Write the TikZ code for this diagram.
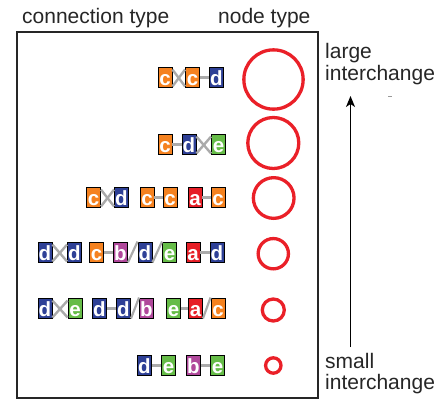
\documentclass[tikz,border=0pt]{standalone}
\usepackage{fontspec}
\setmainfont{Liberation Sans}
\usetikzlibrary{arrows.meta}
\definecolor{cor}{RGB}{245,130,32}
\definecolor{cbl}{RGB}{46,64,150}
\definecolor{cgr}{RGB}{102,188,72}
\definecolor{crd}{RGB}{230,30,38}
\definecolor{cmg}{RGB}{176,72,155}
\definecolor{ccirc}{RGB}{234,32,40}
\definecolor{cgray}{RGB}{170,170,170}
\newcommand\xcr[2]{\draw[cx] ([yshift=-3pt]#1.north east) -- ([yshift=1pt]#2.south west);
  \draw[cx] ([yshift=1pt]#1.south east) -- ([yshift=-3pt]#2.north west);}
\begin{document}
\begin{tikzpicture}[x=1pt,y=-1pt,
  bx/.style={draw=black, line width=0.9pt, minimum width=14pt, minimum height=20pt,
    inner sep=0pt, text height=18pt, text depth=2pt, text=white,
    font=\fontsize{20.5}{21}\selectfont\bfseries},
  ob/.style={bx, fill=cor}, bb/.style={bx, fill=cbl}, gb/.style={bx, fill=cgr},
  rb/.style={bx, fill=crd}, mb/.style={bx, fill=cmg},
  cdash/.style={draw=cgray, line width=3pt},
  cx/.style={draw=cgray, line width=2.4pt},
  csl/.style={draw=cgray, line width=2.2pt},
  circ/.style={circle, draw=ccirc, line width=3.3pt, inner sep=0pt},
  lbl/.style={anchor=base west, inner sep=0pt, font=\fontsize{21}{25}\selectfont, text=black!85}
]
\useasboundingbox (0,0) rectangle (447,400);
\draw[line width=1.1pt, black!85] (17,32) rectangle (318,398);

\node[lbl] (t1) at (22,23) {connection type};
\node[lbl] (t2) at (218,23) {node type};
\node[lbl] (l1) at (325,58.5) {large};
\node[lbl] (l2) at (325,80) {interchange};
\node[lbl] (s1) at (325,368) {small};
\node[lbl] (s2) at (325,389) {interchange};

\coordinate (arrB) at (350.5,347);
\coordinate (arrT) at (350.5,96);
\draw[line width=1.2pt, -{Stealth[length=11pt,width=9pt,inset=3pt]}] (arrB) -- (arrT);
\coordinate (mk1) at (388,96);
\coordinate (mk2) at (392,96);
\draw[black!40, line width=0.8pt] (mk1) -- (mk2);

% circles
\node[circ, minimum size=59.3pt] (c1) at (273.5,79.5) {};
\node[circ, minimum size=51pt] (c2) at (273.3,143) {};
\node[circ, minimum size=40.7pt] (c3) at (273.7,198) {};
\node[circ, minimum size=30.3pt] (c4) at (273.3,253.7) {};
\node[circ, minimum size=22pt] (c5) at (273.3,310) {};
\node[circ, minimum size=15.4pt] (c6) at (273.3,365.5) {};

% row 1
\node[ob] (a1) at (165,77) {c};
\node[ob] (a2) at (192.5,77) {c};
\node[bb] (a3) at (216.5,77) {d};
\xcr{a1}{a2}
\draw[cdash] (a2.east) -- (a3.west);

% row 2
\node[ob] (b1) at (165,144) {c};
\node[bb] (b2) at (189,144) {d};
\node[gb] (b3) at (218.5,144) {e};
\draw[cdash] (b1.east) -- (b2.west);
\xcr{b2}{b3}

% row 3
\node[ob] (e1) at (93.5,197) {c};
\node[bb] (e2) at (121.5,197) {d};
\node[ob] (e3) at (147,197) {c};
\node[ob] (e4) at (170,197) {c};
\node[rb] (e5) at (195,197) {a};
\node[ob] (e6) at (218,197) {c};
\xcr{e1}{e2}
\draw[cdash] (e3.east) -- (e4.west);
\draw[cdash] (e5.east) -- (e6.west);

% row 4
\node[bb] (f1) at (45,252) {d};
\node[bb] (f2) at (74.5,252) {d};
\node[ob] (f3) at (96.5,252) {c};
\node[mb] (f4) at (120.5,252) {b};
\node[bb] (f5) at (145,252) {d};
\node[gb] (f6) at (169.5,252) {e};
\node[rb] (f7) at (193,252) {a};
\node[bb] (f8) at (217,252) {d};
\xcr{f1}{f2}
\draw[cdash] (f3.east) -- (f4.west);
\draw[csl] (f4.south east) -- (f5.north west);
\draw[csl] (f5.south east) -- (f6.north west);
\draw[cdash] (f7.east) -- (f8.west);

% row 5
\node[bb] (g1) at (45,308) {d};
\node[gb] (g2) at (75,308) {e};
\node[bb] (g3) at (99.5,308) {d};
\node[bb] (g4) at (123.5,308) {d};
\node[mb] (g5) at (146.5,308) {b};
\node[gb] (g6) at (173.5,308) {e};
\node[rb] (g7) at (195.5,308) {a};
\node[ob] (g8) at (218,308) {c};
\xcr{g1}{g2}
\draw[cdash] (g3.east) -- (g4.west);
\draw[csl] (g4.south east) -- (g5.north west);
\draw[cdash] (g6.east) -- (g7.west);
\draw[csl] (g7.south east) -- (g8.north west);

% row 6
\node[bb] (h1) at (144.5,365) {d};
\node[gb] (h2) at (168.5,365) {e};
\node[mb] (h3) at (193.5,365) {b};
\node[gb] (h4) at (217.5,365) {e};
\draw[cdash] (h1.east) -- (h2.west);
\draw[cdash] (h3.east) -- (h4.west);
\end{tikzpicture}
\end{document}
